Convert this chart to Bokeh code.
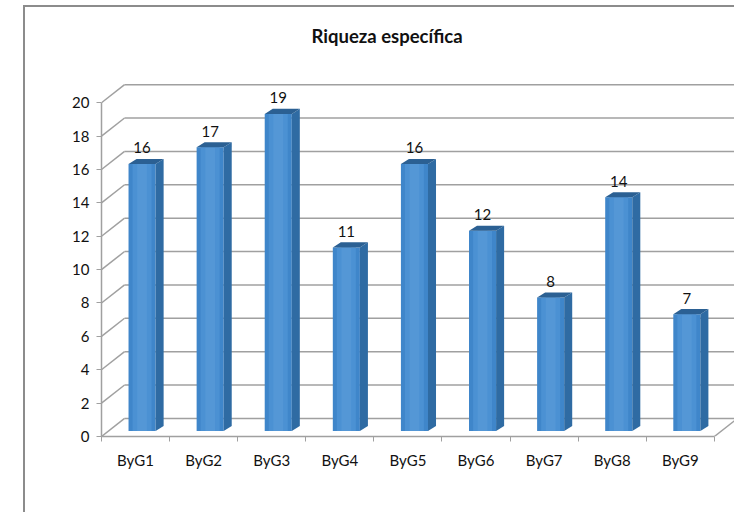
from bokeh.plotting import figure
from bokeh.embed import file_html
from bokeh.resources import INLINE
from bokeh.core.properties import value
from bokeh.models import FixedTicker, Range1d

categories = ["ByG1", "ByG2", "ByG3", "ByG4", "ByG5", "ByG6", "ByG7", "ByG8", "ByG9"]
values = [16, 17, 19, 11, 16, 12, 8, 14, 7]
y_ticks = list(range(0, 21, 2))

FONT = "Lato"
GRID = "#a0a0a0"
UX, UY = 67.9, 16.6           # pixels per category / per unit
WALL_DX, WALL_DY = 23 / UX, 18 / UY
BAR_DX, BAR_DY = 8 / UX, 5 / UY
BAR_W = 27 / UX
BAR_SHIFT = 6.5 / UX
BASE = 5.5 / UY

p = figure(width=711, height=507, output_backend="svg", toolbar_location=None,
           x_range=Range1d(-0.5, 8.825), y_range=Range1d(0, 22.59),
           min_border_left=76, min_border_right=0, min_border_top=52, min_border_bottom=78,
           background_fill_color="white", border_fill_color="white", outline_line_color=None)
p.margin = (5, 0, 0, 23)
p.styles = {"border-left": "2px solid #8c8c8c", "border-top": "2px solid #8c8c8c"}
p.grid.visible = False

p.title.text = "Riqueza específica"
p.title.text_font = FONT
p.title.text_font_size = "18.5px"
p.title.text_font_style = "bold"
p.title.text_color = "#111111"
p.title.align = "left"
p.title.offset = 210
p.title.standoff = 25

# walls
n = len(categories)
xl = -0.5
xr = n - 0.5
p.segment([xl] * len(y_ticks), y_ticks, [xl + WALL_DX] * len(y_ticks), [t + WALL_DY for t in y_ticks],
          line_color=GRID, line_width=1.5)
p.segment([xl + WALL_DX] * len(y_ticks), [t + WALL_DY for t in y_ticks], [9.0] * len(y_ticks),
          [t + WALL_DY for t in y_ticks], line_color=GRID, line_width=1.5)
p.segment([xr], [0], [xr + WALL_DX], [WALL_DY], line_color=GRID, line_width=1.5)

# bars
lefts = [i - BAR_W / 2 + BAR_SHIFT for i in range(n)]
rights = [l + BAR_W for l in lefts]
tops = [BASE + v for v in values]
p.quad(left=lefts, right=rights, bottom=[BASE] * n, top=tops, fill_color="#3f86ca", line_color=None)
p.quad(left=[l + BAR_W * 0.15 for l in lefts], right=[r - BAR_W * 0.15 for r in rights],
       bottom=[BASE] * n, top=tops, fill_color="#4b91d3", line_color=None)
p.quad(left=[l + BAR_W * 0.32 for l in lefts], right=[r - BAR_W * 0.32 for r in rights],
       bottom=[BASE] * n, top=tops, fill_color="#5497d6", line_color=None)
p.patches([[r, r + BAR_DX, r + BAR_DX, r] for r in rights],
          [[BASE, BASE + BAR_DY, t + BAR_DY, t] for t in tops],
          fill_color="#2f6ba3", line_color=None)
p.patches([[l, l + BAR_DX, r + BAR_DX, r] for l, r in zip(lefts, rights)],
          [[t, t + BAR_DY, t + BAR_DY, t] for t in tops],
          fill_color="#2b6093", line_color=None)

# value labels
p.text([l + BAR_W / 2 for l in lefts], tops, text=[str(v) for v in values],
       text_font=value(FONT), text_font_size="15px", text_color="#111111",
       text_align="center", text_baseline="middle", y_offset=-16)

ax = p.xaxis[0]
ax.ticker = FixedTicker(ticks=list(range(n)), minor_ticks=[i - 0.5 for i in range(n + 1)])
ax.major_label_overrides = {i: c for i, c in enumerate(categories)}
ax.bounds = (xl, xr)
ax.major_tick_in = 0
ax.major_tick_out = 0
ax.minor_tick_in = 0
ax.minor_tick_out = 5
ax.minor_tick_line_color = GRID
ax.axis_line_color = GRID
ax.axis_line_width = 1.5
ax.major_label_standoff = 9
ax.major_label_text_font = FONT
ax.major_label_text_font_size = "15px"
ax.major_label_text_color = "#111111"

ay = p.yaxis[0]
ay.ticker = FixedTicker(ticks=y_ticks, minor_ticks=[])
ay.bounds = (0, 20)
ay.major_tick_in = 0
ay.major_tick_out = 5
ay.major_tick_line_color = GRID
ay.axis_line_color = GRID
ay.axis_line_width = 1.5
ay.major_label_standoff = 7
ay.major_label_text_font = FONT
ay.major_label_text_font_size = "15px"
ay.major_label_text_color = "#111111"

open("out.html", "w").write(file_html(p, INLINE))
